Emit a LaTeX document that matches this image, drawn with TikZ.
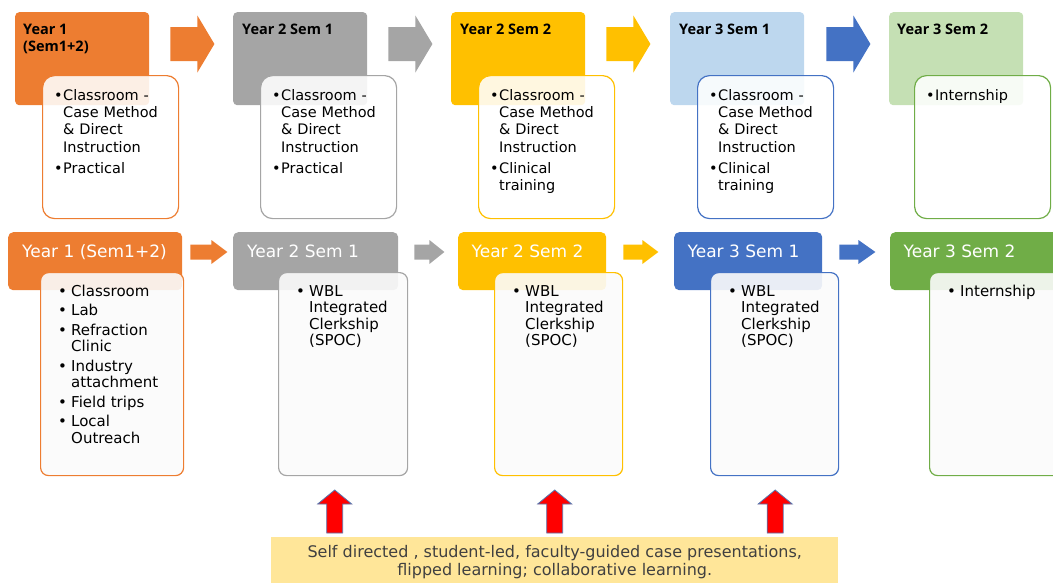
\documentclass[tikz,border=0pt]{standalone}
\usepackage{fontspec}
\setmainfont{DejaVu Sans}
\newfontfamily\headfont{Open Sans}
\usepackage{tikz}
\usetikzlibrary{positioning}
\definecolor{yrorange}{HTML}{ED7D31}
\definecolor{yrgray}{HTML}{A5A5A5}
\definecolor{yryellow}{HTML}{FFC000}
\definecolor{yrlblue}{HTML}{BDD7EE}
\definecolor{yrlgreen}{HTML}{C5E0B4}
\definecolor{yrblue}{HTML}{4472C4}
\definecolor{yrgreen}{HTML}{70AD47}
\definecolor{notefill}{HTML}{FFE699}
\definecolor{notetext}{HTML}{404040}
\tikzstyle{tophead} = [anchor=north west, inner sep=0pt, rounded corners=4pt, minimum width=134pt, minimum height=93pt]
\tikzstyle{topbody} = [anchor=north west, inner sep=0pt, rounded corners=12pt, minimum width=136pt, minimum height=143pt, fill=white, fill opacity=0.88, line width=1.2pt]
\tikzstyle{headtxt} = [anchor=north west, inner sep=0pt, align=left, font=\headfont\bfseries\fontsize{14.5}{17}\selectfont]
\tikzstyle{toptxt} = [anchor=north west, inner sep=0pt, text width=122pt, align=left, font=\fontsize{14.5}{17.3}\selectfont]
\tikzstyle{bothead} = [anchor=north west, inner sep=0pt, rounded corners=5pt, minimum height=58pt]
\tikzstyle{botbody} = [anchor=north west, inner sep=0pt, rounded corners=8pt, minimum height=203pt, fill=gray!3, fill opacity=0.9, line width=1.2pt]
\tikzstyle{bothtxt} = [anchor=base west, inner sep=0pt, text=white, font=\fontsize{17}{20}\selectfont]
\tikzstyle{bottxt} = [anchor=north west, inner sep=0pt, text width=118pt, align=left, font=\fontsize{15}{16.5}\selectfont]
\tikzstyle{redup} = [fill=red, draw=yrblue!70!gray, line width=0.8pt]
% bullets
\newcommand{\tb}{\par\leftskip=9pt\parskip=4pt\leavevmode\llap{\makebox[9pt][l]{\textbullet}}}
\newcommand{\bb}{\par\leftskip=13pt\parskip=3pt\leavevmode\llap{\makebox[13pt][l]{\textbullet}}}
% block arrow: style, left centre, length, head start, half shaft, half head
\newcommand{\blockarr}[6]{\fill[#1] #2 ++(0,-#5) -- ++(#4,0) -- ++(0,#5-#6) -- ++(#3-#4,#6) -- ++(#4-#3,#6) -- ++(0,#5-#6) -- ++(-#4,0) -- cycle;}
\newcommand{\uparr}[1]{\filldraw[redup] #1 -- ++(17,14) -- ++(-9,0) -- ++(0,29) -- ++(-16,0) -- ++(0,-29) -- ++(-9,0) -- cycle;}

\begin{document}
\begin{tikzpicture}[x=1pt,y=-1pt]
        \useasboundingbox (0,0) rectangle (1053,582);
        \clip (0,0) rectangle (1053,582);

        % Top row
        \node[tophead, fill=yrorange] (th1) at (15,12) {};
        \node[tophead, fill=yrgray] (th2) at (233,12) {};
        \node[tophead, fill=yryellow] (th3) at (451,12) {};
        \node[tophead, fill=yrlblue] (th4) at (670,12) {};
        \node[tophead, fill=yrlgreen] (th5) at (889,12) {};
        \node[headtxt] (tl1) at ([shift={(8,11.5)}]th1.north west) {Year 1\\(Sem1+2)};
        \node[headtxt] (tl2) at ([shift={(9,11.5)}]th2.north west) {Year 2 Sem 1};
        \node[headtxt] (tl3) at ([shift={(9,11.5)}]th3.north west) {Year 2 Sem 2};
        \node[headtxt] (tl4) at ([shift={(9,11.5)}]th4.north west) {Year 3 Sem 1};
        \node[headtxt] (tl5) at ([shift={(8,11.5)}]th5.north west) {Year 3 Sem 2};

        \blockarr{yrorange}{([shift={(21,32)}]th1.north east)}{44}{27}{17}{28.5}
        \blockarr{yrgray}{([shift={(21,32)}]th2.north east)}{44}{27}{17}{28.5}
        \blockarr{yryellow}{([shift={(21,32)}]th3.north east)}{44}{27}{17}{28.5}
        \blockarr{yrblue}{([shift={(22,32)}]th4.north east)}{44}{27}{17}{28.5}

        \node[topbody, draw=yrorange] (tb1) at (42,75) {};
        \node[topbody, draw=yrgray] (tb2) at (260,75) {};
        \node[topbody, draw=yryellow] (tb3) at (478,75) {};
        \node[topbody, draw=yrblue] (tb4) at (697,75) {};
        \node[topbody, draw=yrgreen] (tb5) at (914,75) {};
        \node[toptxt] (tt1) at ([shift={(12,3.6)}]tb1.north west) {\tb Classroom -\\Case Method\\\& Direct\\Instruction\tb Practical\par};
        \node[toptxt] (tt2) at ([shift={(12,3.6)}]tb2.north west) {\tb Classroom -\\Case Method\\\& Direct\\Instruction\tb Practical\par};
        \node[toptxt] (tt3) at ([shift={(12,3.6)}]tb3.north west) {\tb Classroom -\\Case Method\\\& Direct\\Instruction\tb Clinical\\training\par};
        \node[toptxt] (tt4) at ([shift={(12,3.6)}]tb4.north west) {\tb Classroom -\\Case Method\\\& Direct\\Instruction\tb Clinical\\training\par};
        \node[toptxt] (tt5) at ([shift={(12,3.6)}]tb5.north west) {\tb Internship\par};

        % Bottom row
        \node[bothead, fill=yrorange, minimum width=174pt] (bh1) at (8,232) {};
        \node[bothead, fill=yrgray, minimum width=165pt] (bh2) at (233,232) {};
        \node[bothead, fill=yryellow, minimum width=148pt] (bh3) at (458,232) {};
        \node[bothead, fill=yrblue, minimum width=148pt] (bh4) at (674,232) {};
        \node[bothead, fill=yrgreen, minimum width=170pt] (bh5) at (890,232) {};
        \node[bothtxt] (bl1) at ([shift={(14,25)}]bh1.north west) {Year 1 (Sem1+2)};
        \node[bothtxt] (bl2) at ([shift={(14,25)}]bh2.north west) {Year 2 Sem 1};
        \node[bothtxt] (bl3) at ([shift={(13.5,25)}]bh3.north west) {Year 2 Sem 2};
        \node[bothtxt] (bl4) at ([shift={(13.5,25)}]bh4.north west) {Year 3 Sem 1};
        \node[bothtxt] (bl5) at ([shift={(13.5,25)}]bh5.north west) {Year 3 Sem 2};

        \blockarr{yrorange}{([shift={(8,20)}]bh1.north east)}{37}{21}{7.5}{12}
        \blockarr{yrgray}{([shift={(16,20)}]bh2.north east)}{30}{15}{7.5}{12}
        \blockarr{yryellow}{([shift={(17,20)}]bh3.north east)}{35}{19}{7.5}{12}
        \blockarr{yrblue}{([shift={(17,20)}]bh4.north east)}{36}{19}{7.5}{12}

        \node[botbody, draw=yrorange, minimum width=143pt] (bb1) at (40,272) {};
        \node[botbody, draw=yrgray, minimum width=129pt] (bb2) at (278,272) {};
        \node[botbody, draw=yryellow, minimum width=128pt] (bb3) at (494,272) {};
        \node[botbody, draw=yrblue, minimum width=128pt] (bb4) at (710,272) {};
        \node[botbody, draw=yrgreen, minimum width=135pt] (bb5) at (929,272) {};
        \node[bottxt] (bt1) at ([shift={(18,4.5)}]bb1.north west) {\bb Classroom\bb Lab\bb Refraction\\Clinic\bb Industry\\attachment\bb Field trips\bb Local\\Outreach\par};
        \node[bottxt] (bt2) at ([shift={(18,4.5)}]bb2.north west) {\bb WBL\\Integrated\\Clerkship\\(SPOC)\par};
        \node[bottxt] (bt3) at ([shift={(18,4.5)}]bb3.north west) {\bb WBL\\Integrated\\Clerkship\\(SPOC)\par};
        \node[bottxt] (bt4) at ([shift={(18,4.5)}]bb4.north west) {\bb WBL\\Integrated\\Clerkship\\(SPOC)\par};
        \node[bottxt] (bt5) at ([shift={(18,4.5)}]bb5.north west) {\bb Internship\par};

        % Learning approach note
        \node[anchor=north west, fill=notefill, minimum width=567pt, minimum height=50pt, inner sep=0pt, align=center, text=notetext, font=\fontsize{16}{18}\selectfont] (note) at (271,537) {Self directed , student-led, faculty-guided case presentations,\\flipped learning; collaborative learning.};
        \uparr{([shift={(-220,-47)}]note.north)}
        \uparr{([shift={(0,-47)}]note.north)}
        \uparr{([shift={(220.5,-47)}]note.north)}
\end{tikzpicture}
\end{document}
